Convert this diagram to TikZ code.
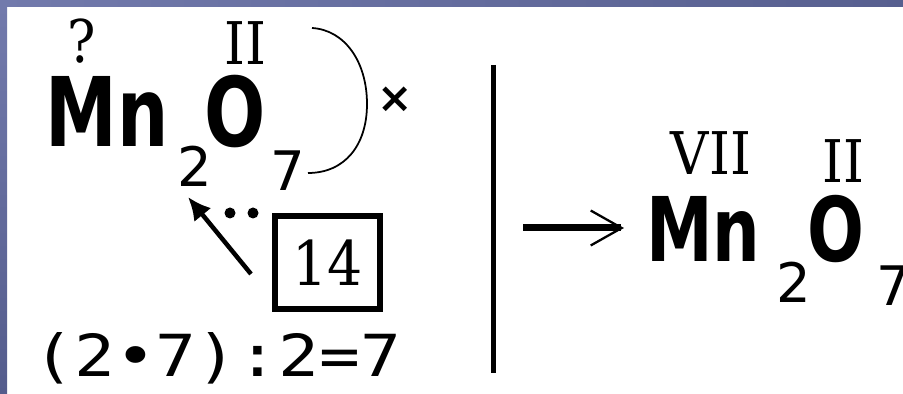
\documentclass[tikz,border=0pt]{standalone}
\usepackage{fontspec}
\newfontfamily\elemfont[FakeStretch=0.75]{DejaVu Sans}
\newfontfamily\indexfont{DejaVu Sans}
\newfontfamily\valfont[FakeStretch=0.9]{DejaVu Serif}
\newfontfamily\calcfont[FakeStretch=1.17]{DejaVu Sans Mono}
\usetikzlibrary{
  arrows.meta,                        % for arrow tips
  positioning}
\definecolor{frame light}{RGB}{114,122,172}
\definecolor{frame dark}{RGB}{84,92,140}
\tikzset{
  element/.style={
    font=\elemfont\bfseries\fontsize{#1}{#1}\selectfont,
    inner sep=0pt, anchor=base west},
  index/.style={
    font=\indexfont\fontsize{31pt}{31pt}\selectfont,
    inner sep=0pt, anchor=base west},
  valence/.style={
    font=\valfont\fontsize{33.5pt}{33.5pt}\selectfont, inner sep=0pt, anchor=base},
  number box/.style={
    draw, line width=0.12cm, inner sep=0pt,
    minimum width=2.1cm, minimum height=1.86cm,
    font=\valfont\fontsize{35pt}{35pt}\selectfont},
  fat line/.style={line width=0.09cm, black}
}

\begin{document}
\begin{tikzpicture}[
  x=0.02cm, y=-0.02cm,
  >={Latex[length=0.46cm, width=0.44cm]}]

\useasboundingbox (0,0) rectangle (903,394);
\clip (0,0) rectangle (903,394);
\shade[left color=frame light, right color=frame dark!90!frame light]
  (0,0) rectangle (903,7);
\shade[top color=frame light, bottom color=frame dark] (0,7) rectangle (7,394);

% left formula with unknown valence
\node[element=54.7pt] (mn-l)     at (45,147)  {Mn};
\node[index]          (idx-mn-l) at (177,187) {2};
\node[element=54.7pt] (o-l)      at (204,147) {O};
\node[index]          (idx-o-l)  at (270,191) {7};
\node[valence]        (val-mn-l) at (82,63)   {?};
\node[valence]        (val-o-l)  at (245,65)  {II};

\coordinate (arc-top) at (312,28)
 coordinate (arc-bot) at (308,173);
\draw[line width=1pt]
  (arc-top) .. controls (345,30) and (367,62) .. (367,104)
            .. controls (367,145) and (345,173) .. (arc-bot);
\node[font=\indexfont\bfseries\fontsize{24pt}{24pt}\selectfont, inner sep=0pt]
  (times) at (395,100) {×};

\node[number box] (fourteen) at (327.5,262.5) {14};
\coordinate (arr-foot) at (251,274)
 coordinate (arr-tip) at (188,197);
\draw[fat line, ->] (arr-foot) -- (arr-tip);
\fill (230,213) circle[radius=5.5] (253,213) circle[radius=5.5];

\node[font=\calcfont\fontsize{33pt}{33pt}\selectfont, inner sep=0pt,
  anchor=base west] (calc) at (33,377) {(2•7):2=7};

% divider and result
\coordinate (div-top) at (493,65)
 coordinate (div-bot) at (493,373);
\draw[line width=0.1cm] (div-top) -- (div-bot);

\coordinate (res-start) at (523,228)
 coordinate (res-end) at (624,228);
\draw[line width=0.14cm,
  -{Straight Barb[length=0.62cm, width=0.7cm, line width=1.3pt]}]
  (res-start) -- (res-end);

\node[element=50.8pt] (mn-r)     at (646,262) {Mn};
\node[index]          (idx-mn-r) at (776,303) {2};
\node[element=50.8pt] (o-r)      at (807,262) {O};
\node[index]          (idx-o-r)  at (876,306) {7};
\node[valence]        (val-mn-r) at (711,175) {VII};
\node[valence]        (val-o-r)  at (843,183) {II};
\end{tikzpicture}
\end{document}
